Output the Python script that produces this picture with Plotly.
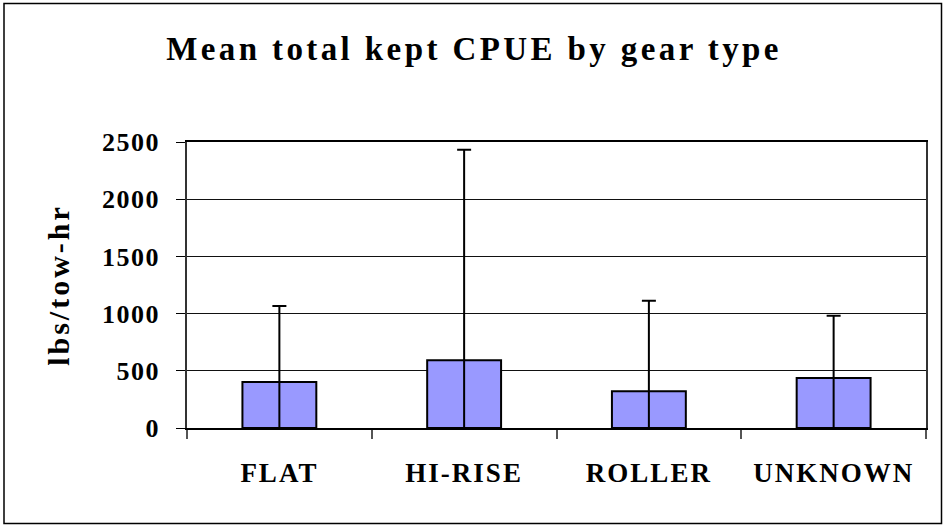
import plotly.graph_objects as go

categories = ["FLAT", "HI-RISE", "ROLLER", "UNKNOWN"]
mean_cpue = [403, 593, 321, 438]
sd_cpue = [663, 1839, 791, 543]
y_ticks = [0, 500, 1000, 1500, 2000, 2500]

FONT = "Liberation Serif"

fig = go.Figure()
fig.add_trace(go.Bar(
    x=categories, y=mean_cpue,
    marker=dict(color="#9999FF", line=dict(color="black", width=2)),
    # the error line is drawn through the bar down to the baseline, as in the reference
    error_y=dict(type="data", array=sd_cpue, arrayminus=mean_cpue, symmetric=False,
                 color="black", thickness=2, width=7),
    width=0.4,
))

L, R, T, B = 187, 17, 142, 101
W, H = 943, 529
pw = W - L - R
ph = H - T - B

def px_x(p):
    return (p - L) / pw

def px_y(p):
    return (H - B - p) / ph

fig.add_shape(type="rect", xref="paper", yref="paper",
              x0=px_x(4), x1=px_x(941.5), y0=px_y(523.5), y1=px_y(3.5),
              line=dict(color="black", width=1.5), fillcolor="rgba(0,0,0,0)", layer="below")

fig.update_layout(
    width=W, height=H,
    margin=dict(l=L, r=R, t=T, b=B),
    paper_bgcolor="white", plot_bgcolor="white",
    showlegend=False,
    title=dict(text="Mean total kept CPUE by gear type",
               xref="container", x=474 / W, xanchor="center",
               yref="container", y=1 - 48 / H, yanchor="middle",
               font=dict(family=FONT, size=33, color="black", weight="bold")),
    font=dict(family=FONT, color="black"),
)
fig.update_xaxes(
    type="category", tickson="boundaries", ticks="outside", ticklen=9, tickcolor="#555",
    tickwidth=1.5,
    showline=True, linecolor="black", linewidth=2, mirror=True,
    showgrid=False, ticklabelstandoff=20,
    tickfont=dict(family=FONT, size=27, color="black", weight="bold"),
)
fig.update_yaxes(
    range=[0, 2500], tickvals=y_ticks, ticks="outside", ticklen=9, tickcolor="black",
    showline=True, linecolor="#333", linewidth=1.5, mirror=True,
    showgrid=True, gridcolor="#111", gridwidth=1,
    ticklabelstandoff=11,
    tickfont=dict(family=FONT, size=26, color="black", weight="bold"),
    title=dict(text="lbs/tow-hr", font=dict(family=FONT, size=30, color="black", weight="bold"), standoff=30),
    zeroline=False,
)

css = (
    "body{margin:0;overflow:hidden}"
    " .gtitle{letter-spacing:3.4px}"
    " .ytitle{letter-spacing:3px}"
    " .xtick text{letter-spacing:2px}"
    " .ytick text{letter-spacing:1.5px}"
)
post = ("var s=document.createElement('style');s.textContent=" + repr(css) +
        ";document.head.appendChild(s);")

fig.write_html("out.html", post_script=post, config={"displayModeBar": False})
